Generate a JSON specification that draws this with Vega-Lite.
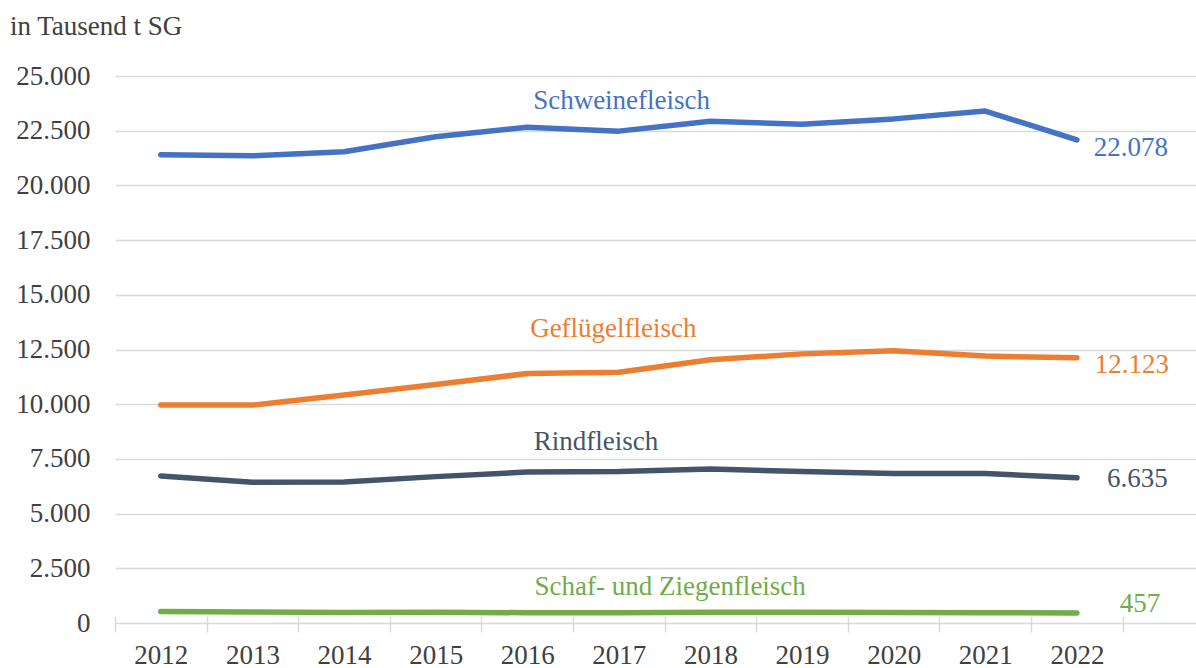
{
  "$schema": "https://vega.github.io/schema/vega-lite/v6.json",
  "width": 1081,
  "height": 547,
  "autosize": {"type": "none"},
  "padding": {"left": 115, "top": 76, "right": 0, "bottom": 45},
  "background": "white",
  "title": {
    "text": "in Tausend t SG",
    "anchor": "start",
    "frame": "group",
    "dx": -105,
    "offset": 0,
    "baseline": "alphabetic",
    "font": "Liberation Serif",
    "fontSize": 27,
    "fontWeight": "normal",
    "color": "#404040"
  },
  "config": {
    "view": {"stroke": null},
    "font": "Liberation Serif"
  },
  "datasets": {
    "series": [
      {"year": 2012, "kategorie": "Schweinefleisch", "menge": 21400},
      {"year": 2013, "kategorie": "Schweinefleisch", "menge": 21350},
      {"year": 2014, "kategorie": "Schweinefleisch", "menge": 21540},
      {"year": 2015, "kategorie": "Schweinefleisch", "menge": 22220},
      {"year": 2016, "kategorie": "Schweinefleisch", "menge": 22660},
      {"year": 2017, "kategorie": "Schweinefleisch", "menge": 22480},
      {"year": 2018, "kategorie": "Schweinefleisch", "menge": 22930},
      {"year": 2019, "kategorie": "Schweinefleisch", "menge": 22790},
      {"year": 2020, "kategorie": "Schweinefleisch", "menge": 23040},
      {"year": 2021, "kategorie": "Schweinefleisch", "menge": 23400},
      {"year": 2022, "kategorie": "Schweinefleisch", "menge": 22078},
      {"year": 2012, "kategorie": "Geflügelfleisch", "menge": 9960},
      {"year": 2013, "kategorie": "Geflügelfleisch", "menge": 9960},
      {"year": 2014, "kategorie": "Geflügelfleisch", "menge": 10420},
      {"year": 2015, "kategorie": "Geflügelfleisch", "menge": 10900},
      {"year": 2016, "kategorie": "Geflügelfleisch", "menge": 11400},
      {"year": 2017, "kategorie": "Geflügelfleisch", "menge": 11460},
      {"year": 2018, "kategorie": "Geflügelfleisch", "menge": 12030},
      {"year": 2019, "kategorie": "Geflügelfleisch", "menge": 12300},
      {"year": 2020, "kategorie": "Geflügelfleisch", "menge": 12440},
      {"year": 2021, "kategorie": "Geflügelfleisch", "menge": 12200},
      {"year": 2022, "kategorie": "Geflügelfleisch", "menge": 12123},
      {"year": 2012, "kategorie": "Rindfleisch", "menge": 6720},
      {"year": 2013, "kategorie": "Rindfleisch", "menge": 6430},
      {"year": 2014, "kategorie": "Rindfleisch", "menge": 6440},
      {"year": 2015, "kategorie": "Rindfleisch", "menge": 6690},
      {"year": 2016, "kategorie": "Rindfleisch", "menge": 6900},
      {"year": 2017, "kategorie": "Rindfleisch", "menge": 6920},
      {"year": 2018, "kategorie": "Rindfleisch", "menge": 7040},
      {"year": 2019, "kategorie": "Rindfleisch", "menge": 6920},
      {"year": 2020, "kategorie": "Rindfleisch", "menge": 6830},
      {"year": 2021, "kategorie": "Rindfleisch", "menge": 6830},
      {"year": 2022, "kategorie": "Rindfleisch", "menge": 6635},
      {"year": 2012, "kategorie": "Schaf- und Ziegenfleisch", "menge": 520},
      {"year": 2013, "kategorie": "Schaf- und Ziegenfleisch", "menge": 500},
      {"year": 2014, "kategorie": "Schaf- und Ziegenfleisch", "menge": 480},
      {"year": 2015, "kategorie": "Schaf- und Ziegenfleisch", "menge": 490},
      {"year": 2016, "kategorie": "Schaf- und Ziegenfleisch", "menge": 470},
      {"year": 2017, "kategorie": "Schaf- und Ziegenfleisch", "menge": 470},
      {"year": 2018, "kategorie": "Schaf- und Ziegenfleisch", "menge": 490},
      {"year": 2019, "kategorie": "Schaf- und Ziegenfleisch", "menge": 490},
      {"year": 2020, "kategorie": "Schaf- und Ziegenfleisch", "menge": 480},
      {"year": 2021, "kategorie": "Schaf- und Ziegenfleisch", "menge": 470},
      {"year": 2022, "kategorie": "Schaf- und Ziegenfleisch", "menge": 457}
    ],
    "labels": [
      {"kategorie": "Schweinefleisch", "text": "Schweinefleisch", "year": 2017.03, "menge": 23478},
      {"kategorie": "Geflügelfleisch", "text": "Geflügelfleisch", "year": 2016.94, "menge": 13085},
      {"kategorie": "Rindfleisch", "text": "Rindfleisch", "year": 2016.75, "menge": 7907},
      {"kategorie": "Schaf- und Ziegenfleisch", "text": "Schaf- und Ziegenfleisch", "year": 2017.56, "menge": 1280},
      {"kategorie": "Schweinefleisch", "text": "22.078", "year": 2022.59, "menge": 21344},
      {"kategorie": "Geflügelfleisch", "text": "12.123", "year": 2022.6, "menge": 11440},
      {"kategorie": "Rindfleisch", "text": "6.635", "year": 2022.66, "menge": 6229},
      {"kategorie": "Schaf- und Ziegenfleisch", "text": "457", "year": 2022.69, "menge": 516}
    ]
  },
  "encoding": {
    "x": {
      "field": "year",
      "type": "quantitative",
      "scale": {"domain": [2011.5, 2023.3], "nice": false, "zero": false},
      "axis": {
        "title": null,
        "values": [2011.5, 2012.5, 2013.5, 2014.5, 2015.5, 2016.5, 2017.5, 2018.5, 2019.5, 2020.5, 2021.5, 2022.5],
        "labelExpr": "datum.value > 2022 ? '' : format(datum.value + 0.5, 'd')",
        "labelOffset": 45.8,
        "labelFlush": false,
        "labelOverlap": false,
        "labelBound": false,
        "labelFont": "Liberation Serif",
        "labelFontSize": 27,
        "labelColor": "#404040",
        "labelPadding": 10,
        "domain": false,
        "grid": false,
        "offset": -7,
        "tickSize": 16,
        "tickColor": "#D9D9D9",
        "tickWidth": 1.5
      }
    },
    "y": {
      "field": "menge",
      "type": "quantitative",
      "scale": {"domain": [0, 25000], "nice": false},
      "axis": {
        "title": null,
        "values": [0, 2500, 5000, 7500, 10000, 12500, 15000, 17500, 20000, 22500, 25000],
        "labelExpr": "replace(format(datum.value, ','), ',', '.')",
        "labelFont": "Liberation Serif",
        "labelFontSize": 27,
        "labelColor": "#404040",
        "labelPadding": 25,
        "domain": false,
        "ticks": false,
        "grid": true,
        "gridColor": "#D9D9D9",
        "gridWidth": 1.5
      }
    },
    "color": {
      "field": "kategorie",
      "type": "nominal",
      "legend": null,
      "scale": {
        "domain": ["Schweinefleisch", "Geflügelfleisch", "Rindfleisch", "Schaf- und Ziegenfleisch"],
        "range": ["#4472C4", "#ED7D31", "#44546A", "#70AD47"]
      }
    }
  },
  "layer": [
    {
      "data": {"name": "series"},
      "mark": {"type": "line", "strokeWidth": 5.5, "strokeCap": "round", "strokeJoin": "round"}
    },
    {
      "data": {"name": "labels"},
      "mark": {"type": "text", "align": "center", "baseline": "alphabetic", "font": "Liberation Serif", "fontSize": 27},
      "encoding": {"text": {"field": "text", "type": "nominal"}}
    }
  ]
}
